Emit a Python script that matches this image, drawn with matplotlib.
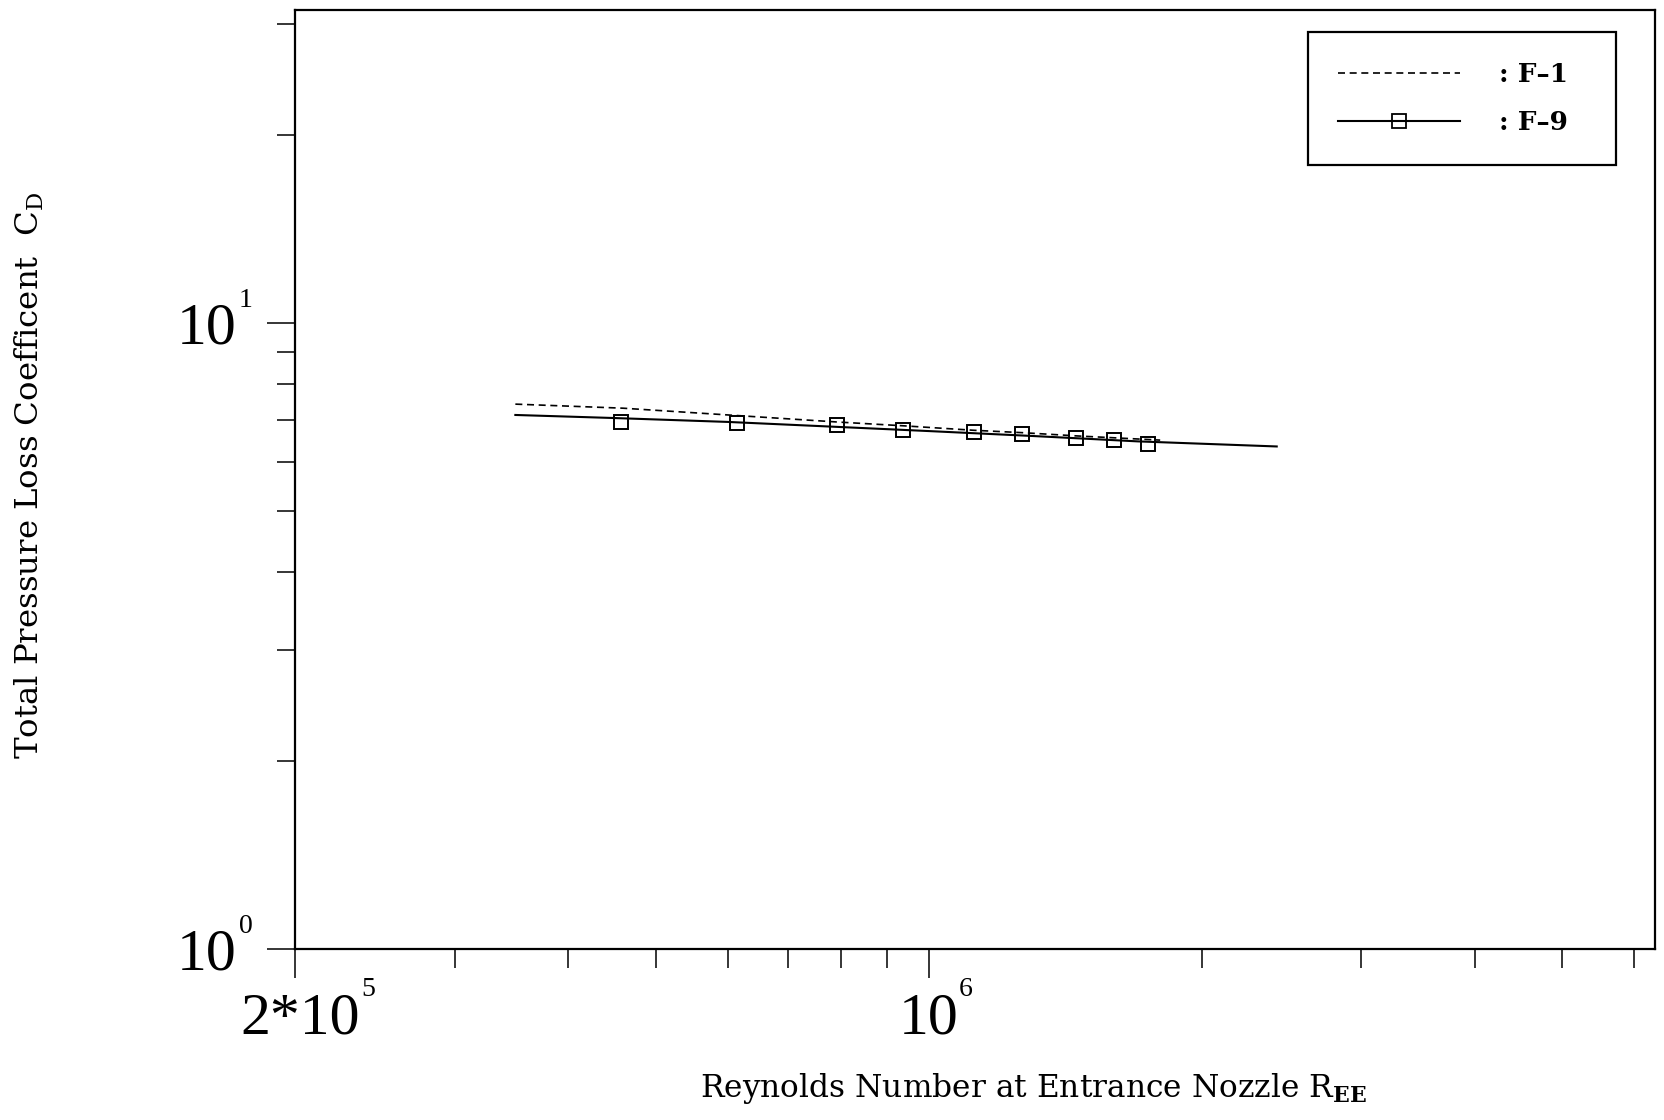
import matplotlib
matplotlib.use("Agg")
import matplotlib.pyplot as plt
from matplotlib.lines import Line2D
from matplotlib.ticker import FixedLocator, NullFormatter

# ---- data -------------------------------------------------------------
# F-1 : dashed curve
re_f1 = [3.5e5, 4.6e5, 6.1e5, 7.9e5, 9.4e5, 1.12e6, 1.27e6, 1.46e6, 1.80e6]
cd_f1 = [7.42, 7.31, 7.12, 6.95, 6.85, 6.74, 6.68, 6.60, 6.50]

# F-9 : solid fitted curve
re_f9_line = [3.5e5, 4.5e5, 6.0e5, 8.0e5, 1.0e6, 1.3e6, 1.7e6, 2.42e6]
cd_f9_line = [7.13, 7.05, 6.95, 6.82, 6.72, 6.60, 6.47, 6.35]

# F-9 : measured points
re_f9_pts = [4.58e5, 6.14e5, 7.92e5, 9.36e5, 1.122e6, 1.266e6, 1.455e6, 1.60e6, 1.746e6]
cd_f9_pts = [6.95, 6.93, 6.87, 6.75, 6.69, 6.64, 6.56, 6.51, 6.40]

series_labels = [": F\u20131", ": F\u20139"]

# axis decades: value, mantissa text, exponent text
x_major = [2e5, 1e6]
x_major_base = ["2*10", "10"]
x_major_exp = ["5", "6"]
x_minor = [3e5, 4e5, 5e5, 6e5, 7e5, 8e5, 9e5, 2e6, 3e6, 4e6, 5e6, 6e6]
y_major = [1, 10]
y_major_base = ["10", "10"]
y_major_exp = ["0", "1"]
y_minor = [2, 3, 4, 5, 6, 7, 8, 9, 20, 30]

xlabel = r"Reynolds Number at Entrance Nozzle R$_{\mathbf{EE}}$"
ylabel = r"Total Pressure Loss Coefficent  C$_{\mathregular{D}}$"

# ---- style ------------------------------------------------------------
plt.rcParams["mathtext.fontset"] = "custom"
plt.rcParams["mathtext.rm"] = "DejaVu Serif"
plt.rcParams["mathtext.bf"] = "DejaVu Serif:bold"

W, H = 1664, 1120
fig = plt.figure(figsize=(W / 100, H / 100), dpi=100)
fig.patch.set_facecolor("white")

left, right, top, bottom = 295, 1655, 10, 949
ax = fig.add_axes([left / W, 1 - bottom / H, (right - left) / W, (bottom - top) / H])

ax.set_xscale("log")
ax.set_yscale("log")
ax.set_xlim(2e5, 2e5 * 10 ** 1.5)
ax.set_ylim(1, 10 ** 1.5)

dash = (0, (4.2, 2.8))
ax.plot(re_f1, cd_f1, color="black", lw=1.2, linestyle=dash)
ax.plot(re_f9_line, cd_f9_line, color="black", lw=1.5)
ax.plot(re_f9_pts, cd_f9_pts, linestyle="none", marker="s", ms=10.5,
        mfc="none", mec="black", mew=1.4)

# axes frame
for sp in ax.spines.values():
    sp.set_linewidth(1.6)
    sp.set_color("black")

# ticks (labels are set as mantissa + raised exponent below)
ax.xaxis.set_major_locator(FixedLocator(x_major))
ax.xaxis.set_minor_locator(FixedLocator(x_minor))
ax.yaxis.set_major_locator(FixedLocator(y_major))
ax.yaxis.set_minor_locator(FixedLocator(y_minor))
for axis in (ax.xaxis, ax.yaxis):
    axis.set_major_formatter(NullFormatter())
    axis.set_minor_formatter(NullFormatter())

ax.tick_params(axis="x", which="major", direction="out", length=21, width=1.1)
ax.tick_params(axis="x", which="minor", direction="out", length=14, width=1.1)
ax.tick_params(axis="y", which="major", direction="out", length=20, width=1.1)
ax.tick_params(axis="y", which="minor", direction="out", length=13, width=1.1)

num_font = "Liberation Serif"
base_size, exp_size = 43, 20

# x decade labels
x_base_layout = [dict(ha="right", dx=65), dict(ha="center", dx=0)]
x_exp_dx = [66, 30]
for xv, b, e, lay, edx in zip(x_major, x_major_base, x_major_exp, x_base_layout, x_exp_dx):
    ax.annotate(b, xy=(xv, 0), xycoords=("data", "axes fraction"),
                xytext=(lay["dx"], -84), textcoords="offset pixels",
                ha=lay["ha"], va="baseline", family=num_font, fontsize=base_size,
                annotation_clip=False)
    ax.annotate(e, xy=(xv, 0), xycoords=("data", "axes fraction"),
                xytext=(edx, -47), textcoords="offset pixels",
                ha="left", va="baseline", family=num_font, fontsize=exp_size,
                annotation_clip=False)

# y decade labels
for yv, b, e in zip(y_major, y_major_base, y_major_exp):
    ax.annotate(b, xy=(0, yv), xycoords=("axes fraction", "data"),
                xytext=(-58, -20), textcoords="offset pixels",
                ha="right", va="baseline", family=num_font, fontsize=base_size,
                annotation_clip=False)
    ax.annotate(e, xy=(0, yv), xycoords=("axes fraction", "data"),
                xytext=(-56, 16), textcoords="offset pixels",
                ha="left", va="baseline", family=num_font, fontsize=exp_size,
                annotation_clip=False)

# axis titles
fig.text(1033 / W, 1 - 1088 / H, xlabel, ha="center", va="center",
         family="DejaVu Serif", fontsize=22.5)
fig.text(29 / W, 1 - 475 / H, ylabel, ha="center", va="center", rotation=90,
         family="DejaVu Serif", fontsize=23.3)

# legend
handles = [
    Line2D([], [], color="black", lw=1.2, linestyle=dash),
    Line2D([], [], color="black", lw=1.5, marker="s", ms=9.5,
           mfc="none", mec="black", mew=1.3),
]
x0 = (1308 - left) / (right - left)
wl = (1616 - 1308) / (right - left)
y0 = (bottom - 32) / (bottom - top)
leg = ax.legend(handles, series_labels, loc="upper left",
                bbox_to_anchor=(x0, y0, wl, 0), mode="expand", borderaxespad=0,
                prop={"family": "DejaVu Serif", "weight": "bold", "size": 19},
                handlelength=4.6, handletextpad=1.5, borderpad=1.15,
                labelspacing=0.85, fancybox=False, framealpha=1,
                edgecolor="black", numpoints=1)
leg.get_frame().set_linewidth(1.6)

fig.savefig("out.png", dpi=100, facecolor="white")
